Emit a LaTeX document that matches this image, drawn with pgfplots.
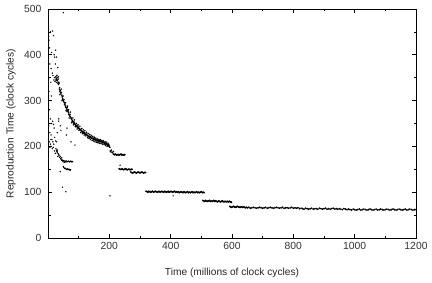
\documentclass[border=0pt]{standalone}
\usepackage{pgfplots}
\pgfplotsset{compat=1.18}
\usepackage{pgfplotstable}
\usepackage{fontspec}
\setmainfont{Liberation Sans}
\usetikzlibrary{calc}

\pgfplotstableread{
x y
2 440
3 432
5 415
8 450
15 452
18 442
12 405
20 400
22 395
25 410
6 380
10 370
14 360
24 380
28 395
32 372
4 350
9 340
16 355
19 345
21 350
23 342
26 352
30 345
27 340
34 335
3 320
7 300
11 310
5 280
8 260
12 250
15 255
18 248
20 240
2 245
6 230
10 225
13 215
16 210
19 205
22 220
25 212
28 210
8 205
11 200
14 195
17 198
21 190
24 185
27 192
30 188
4 210
6 198
9 215
35 260
30 230
50 492
35 255
40 245
42 235
47 111
58 101
40 145
88 203
202 92
408 92
235 159
62 240
75 210
60 225
26 195
28 190
30 186
31 192
33 184
35 182
32 178
36 180
38 176
40 178
41 174
43 172
45 175
44 170
47 170
48 168
50 169
52 166
53 168
55 165
56 168
58 167
60 168
62 166
64 167
66 168
68 167
70 166
72 167
74 168
76 167
78 166
80 167
50 156
52 154
54 152
56 151
58 152
60 150
62 149
64 151
66 150
68 149
70 150
72 148
74 149
}\scatterdata

\pgfplotstableread{
x y
25 352
27 348
28 345
30 350
31 343
33 347
35 340
36 338
37 325
38 320
40 322
41 318
42 315
44 318
45 312
46 308
47 302
48 305
50 300
51 298
52 302
53 296
55 295
56 290
57 286
58 288
60 284
61 282
62 285
63 280
65 278
66 275
67 270
68 273
70 268
71 266
72 270
74 264
75 262
76 260
78 258
79 255
80 256
82 252
84 254
85 250
87 251
88 248
90 247
91 246
93 244
94 243
96 245
97 241
99 240
100 242
102 238
103 239
105 237
106 236
108 234
109 235
111 233
112 231
114 232
116 230
117 229
119 230
121 228
122 227
124 229
125 226
127 225
128 223
130 224
132 222
133 221
135 222
137 220
138 219
140 221
142 218
143 219
145 217
147 218
148 216
150 217
152 215
154 214
155 216
157 213
159 214
160 212
162 213
164 211
165 212
167 213
169 211
170 210
172 212
174 210
175 211
177 209
179 210
180 208
182 209
184 207
185 208
187 206
189 205
190 207
192 204
194 203
195 205
197 202
199 200
200 201
202 198
203 190
205 188
207 192
209 187
211 186
213 189
26 345
29 355
32 338
34 352
38 328
39 313
43 325
46 300
49 310
54 292
57 295
59 278
62 276
64 288
67 280
69 262
73 275
77 252
81 262
83 247
86 258
89 243
92 250
95 238
98 247
101 235
104 244
107 230
110 239
113 228
115 236
118 225
120 234
123 223
126 231
129 219
131 228
134 217
136 226
139 215
141 224
144 213
146 222
149 212
151 220
153 210
156 218
158 209
161 216
163 208
166 215
168 207
171 215
173 206
176 213
178 205
181 212
183 204
186 210
188 202
191 209
193 200
196 207
198 204
}\curvedata

\pgfplotstableread{
x y
214 183
217 182
220 183
223 181
226 182
229 182
232 181
235 182
238 183
241 181
244 182
247 181
250 182
232 151
235 150
238 150
241 151
244 150
247 149
250 150
253 151
256 150
259 149
262 150
265 150
268 149
271 150
274 150
270 144
273 143
276 142
279 143
282 144
285 143
288 142
291 143
294 144
297 143
300 142
303 143
306 144
309 143
312 142
315 143
318 143
320 102
323 101
326 100
329 102
332 101
335 100
338 101
341 102
344 100
347 101
350 102
353 101
356 100
359 101
362 102
365 100
368 101
371 102
374 101
377 100
380 102
383 101
386 100
389 101
392 102
395 100
398 101
401 102
404 101
407 100
410 101
413 102
416 100
419 101
422 100
425 101
428 99
431 100
434 101
437 100
440 99
443 101
446 100
449 99
452 100
455 101
458 99
461 100
464 99
467 100
470 101
473 99
476 100
479 99
482 100
485 101
488 99
491 100
494 99
497 100
500 101
503 99
506 100
509 99
505 82
508 81
511 80
514 82
517 81
520 80
523 81
526 82
529 80
532 81
535 80
538 81
541 82
544 80
547 81
550 80
553 79
556 81
559 80
562 79
565 80
568 81
571 79
574 80
577 79
580 80
583 79
586 80
589 79
592 80
595 79
598 78
593 69
596 68
599 67
602 68
605 69
608 68
611 67
614 68
617 69
620 68
623 67
626 68
629 67
632 68
635 67
638 68
641 67
644 66
647 67
650 66
655 67
660 65
665 66
670 67
675 66
680 65
685 66
690 67
695 66
700 65
705 66
710 67
715 65
720 66
725 67
730 66
735 65
740 66
745 67
750 66
755 65
760 66
765 67
770 65
775 66
780 66
785 65
790 66
795 67
800 65
805 66
810 65
815 66
820 64
825 65
830 64
835 63
840 65
845 64
850 63
855 64
860 65
865 63
870 64
875 64
880 63
885 65
890 64
895 63
900 64
905 65
910 63
915 64
920 63
925 64
930 65
935 63
940 64
945 63
950 64
955 63
960 62
965 64
970 63
975 62
980 63
985 62
990 61
995 63
1000 62
1005 61
1010 62
1015 63
1020 61
1025 62
1030 63
1035 62
1040 61
1045 62
1050 63
1055 62
1060 61
1065 62
1070 63
1075 61
1080 62
1085 63
1090 62
1095 61
1100 62
1105 63
1110 62
1115 61
1120 62
1125 63
1130 62
1135 61
1140 62
1145 63
1150 62
1155 61
1160 62
1165 63
1170 61
1175 62
1180 63
1185 62
1190 61
1195 62
1200 62
}\banddata

\begin{document}
\begin{tikzpicture}
\begin{axis}[
  name=ax,
  scale only axis,
  width=368bp, height=229bp,
  xmin=0, xmax=1200, ymin=0, ymax=500,
  xtick={200,400,...,1200},
  minor xtick={100,300,...,1100},
  ytick={0,100,...,500},
  minor ytick={50,150,...,450},
  tick align=inside,
  major tick length=4bp,
  minor tick length=2.5bp,
  axis line style={line width=0.9pt},
  every tick/.style={black, line width=0.6pt},
  /pgf/number format/assume math mode=true,
  /pgf/number format/set thousands separator={},
  tick label style={font=\fontsize{10.4}{12}\selectfont, text=black!80},
  xticklabel style={yshift=-1bp},
  yticklabel style={xshift=-3bp},
  xlabel={Time (millions of clock cycles)},
  ylabel={Reproduction Time (clock cycles)},
  label style={font=\fontsize{10.2}{12}\selectfont, text=black!85},
  xlabel style={at={(axis description cs:0.5,0)}, anchor=center, yshift=-35bp},
  ylabel style={at={(axis description cs:0,0.5)}, anchor=center, rotate=0, yshift=37bp},
  clip=true,
]
\addplot[only marks, mark=*, mark size=0.45pt, black] table {\scatterdata};
\addplot[only marks, mark=*, mark size=0.55pt, black] table {\curvedata};
\addplot[only marks, mark=*, mark size=0.7pt, black] table {\banddata};
\end{axis}
\pgfresetboundingbox
\path ($(ax.south west)+(-48bp,-45bp)$) rectangle ($(ax.north east)+(16bp,9bp)$);
\end{tikzpicture}
\end{document}
